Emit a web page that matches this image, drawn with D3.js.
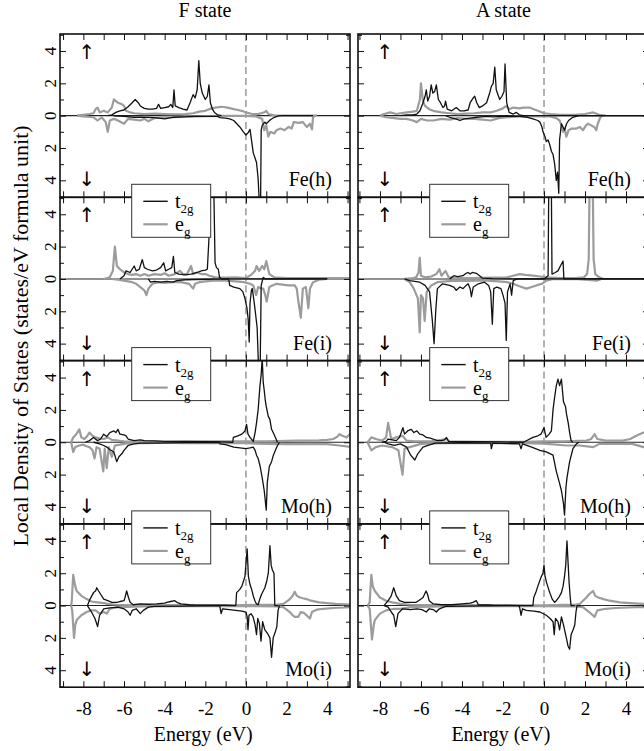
<!DOCTYPE html>
<html>
<head>
<meta charset="utf-8">
<script src="https://cdn.jsdelivr.net/npm/d3@7"></script>
<style>
  html, body { margin: 0; padding: 0; background: #fff; }
  svg { display: block; }
  svg text { font-family: "Liberation Serif", "Times New Roman", serif !important; fill: #000; }
  svg text.arrow { font-family: "DejaVu Sans", sans-serif !important; }
</style>
</head>
<body>
<svg id="chart" width="644" height="751"></svg>
<script>
// ---------------- DATA ----------------
const columnTitles = ["F state", "A state"];
const panelLabels = ["Fe(h)", "Fe(i)", "Mo(h)", "Mo(i)"];
const xTickLabels = [-8, -6, -4, -2, 0, 2, 4];
const yTickLabels = [-4, -2, 0, 2, 4];
const seriesNames = ["t2g", "eg"];

// F state, Fe(h)
const fFeH_t2gUp = [[-6.8,0],[-6.6,0.05],[-6.4,0.2],[-6.2,0.3],[-6.0,0.35],[-5.8,0.55],[-5.6,0.8],[-5.45,1.0],[-5.3,0.8],[-5.2,0.6],[-5.0,0.45],[-4.8,0.4],[-4.6,0.4],[-4.4,0.45],[-4.3,0.7],[-4.2,0.45],[-4.0,0.5],[-3.8,0.55],[-3.7,0.7],[-3.6,0.5],[-3.54,1.6],[-3.48,0.6],[-3.3,0.5],[-3.1,0.4],[-2.9,0.35],[-2.75,0.8],[-2.6,1.3],[-2.5,1.1],[-2.4,1.6],[-2.32,3.4],[-2.25,2.0],[-2.15,1.4],[-2.0,1.0],[-1.9,1.2],[-1.82,1.9],[-1.75,0.8],[-1.65,0.4],[-1.55,0.2],[-1.4,0.05],[-1.2,0]];
const fFeH_t2gDn = [[-6.5,-0.02],[-6,-0.05],[-5.5,-0.1],[-5,-0.1],[-4.5,-0.12],[-4,-0.2],[-3.6,-0.1],[-3,-0.08],[-2.5,-0.05],[-2,-0.05],[-1.4,-0.05],[-1.28,-0.12],[-1.0,-0.15],[-0.8,-0.2],[-0.6,-0.3],[-0.45,-0.5],[-0.3,-0.7],[-0.13,-1.0],[0.0,-1.2],[0.11,-1.05],[0.2,-0.85],[0.36,-2.3],[0.52,-2.9],[0.6,-3.9],[0.66,-5.5],[0.72,-5.5],[0.75,-0.9],[0.8,-0.6],[0.93,-0.4],[1.0,-0.5],[1.2,-0.25],[1.4,-0.1],[1.6,-0.02],[1.8,0],[3.3,0]];
const fFeH_egUp = [[-8.3,0],[-8,0.05],[-7.7,0.1],[-7.5,0.15],[-7.4,0.4],[-7.3,0.5],[-7.2,0.2],[-7.0,0.3],[-6.8,0.2],[-6.6,0.5],[-6.5,1.0],[-6.4,0.9],[-6.3,0.8],[-6.1,0.7],[-6.0,0.6],[-5.9,0.3],[-5.7,0.2],[-5.5,0.15],[-5.0,0.1],[-4.5,0.12],[-4.0,0.1],[-3.5,0.08],[-3.0,0.1],[-2.6,0.15],[-2.3,0.25],[-2.0,0.3],[-1.7,0.45],[-1.5,0.5],[-1.2,0.55],[-0.9,0.5],[-0.6,0.4],[-0.4,0.35],[-0.2,0.3],[0,0.2],[0.3,0.1],[0.6,0.1],[0.9,0.2],[1.0,0.3],[1.1,0.1],[1.4,0.02],[2,0],[3.5,0]];
const fFeH_egDn = [[-8.3,0],[-8,-0.05],[-7.5,-0.1],[-7.3,-0.3],[-7.1,-0.1],[-6.9,-0.4],[-6.8,-1.0],[-6.7,-0.3],[-6.5,-0.2],[-6.3,-0.3],[-6.0,-0.5],[-5.8,-0.2],[-5.5,-0.25],[-5.2,-0.3],[-5.0,-0.2],[-4.8,-0.35],[-4.5,-0.15],[-4.0,-0.1],[-3.5,-0.1],[-3.0,-0.05],[-2.5,-0.05],[-2,-0.03],[-1,-0.02],[0,-0.02],[0.5,-0.05],[0.8,-0.2],[0.9,-0.9],[1.0,-0.6],[1.1,-1.3],[1.2,-1.0],[1.4,-1.1],[1.5,-0.9],[1.7,-0.8],[1.9,-0.9],[2.1,-0.7],[2.25,-0.8],[2.35,-0.4],[2.6,-0.45],[2.8,-0.4],[3.0,-0.7],[3.15,-0.5],[3.25,-0.85],[3.3,-0.1],[3.4,0]];

// F state, Fe(i)
const fFeI_t2gUp = [[-6.2,0],[-6.0,0.2],[-5.9,0.5],[-5.7,0.4],[-5.5,0.8],[-5.4,0.5],[-5.25,0.6],[-5.1,1.2],[-5.0,0.7],[-4.85,0.6],[-4.6,0.5],[-4.4,0.55],[-4.2,0.7],[-4.05,1.0],[-3.95,0.5],[-3.8,0.6],[-3.65,0.7],[-3.57,1.4],[-3.5,0.4],[-3.3,0.3],[-3.0,0.25],[-2.7,0.3],[-2.4,0.4],[-2.2,0.5],[-2.0,0.55],[-1.9,0.6],[-1.82,2.5],[-1.76,5.5],[-1.58,5.5],[-1.52,1.0],[-1.45,0.7],[-1.36,0.6],[-1.3,0.1],[-1.2,0],[4.0,0]];
const fFeI_t2gDn = [[-4.8,0],[-4.7,-0.2],[-4.5,-0.15],[-4.2,-0.2],[-3.9,-0.15],[-3.6,-0.2],[-3.4,-0.1],[-3.0,-0.05],[-2,-0.02],[-0.85,0],[-0.8,-0.4],[-0.6,-0.5],[-0.3,-0.6],[-0.15,-0.8],[-0.05,-1.2],[0.05,-1.8],[0.11,-2.5],[0.16,-3.9],[0.2,-1.5],[0.27,-0.7],[0.31,-0.6],[0.38,-1.2],[0.44,-1.8],[0.55,-3.0],[0.62,-5.5],[0.7,-5.5],[0.75,-0.4],[0.85,0.1],[0.95,0],[4,0]];
const fFeI_egUp = [[-7.0,0],[-6.7,0.1],[-6.55,0.5],[-6.45,2.0],[-6.35,0.8],[-6.2,0.6],[-6.0,0.4],[-5.8,0.3],[-5.6,0.25],[-5.4,0.3],[-5.2,0.2],[-5.0,0.3],[-4.8,0.2],[-4.5,0.3],[-4.2,0.25],[-4.0,0.35],[-3.8,0.2],[-3.5,0.3],[-3.25,0.5],[-3.1,0.3],[-2.9,0.3],[-2.7,0.8],[-2.6,0.3],[-2.4,0.4],[-2.2,0.3],[-2.0,0.3],[-1.8,0.2],[-1.5,0.1],[-1,0.08],[-0.5,0.1],[0,0.05],[0.3,0.3],[0.45,0.5],[0.52,0.8],[0.65,0.5],[0.8,0.8],[0.9,0.6],[1.0,1.1],[1.15,0.3],[1.4,0.1],[2,0.05],[3,0.05],[4,0.05],[5.2,0.05]];
const fFeI_egDn = [[-6.6,0],[-6.3,-0.05],[-6.0,-0.1],[-5.6,-0.2],[-5.4,-0.3],[-5.2,-0.5],[-5.0,-0.7],[-4.9,-1.0],[-4.8,-0.6],[-4.6,-0.3],[-4.3,-0.2],[-4.0,-0.25],[-3.6,-0.2],[-3.2,-0.2],[-2.8,-0.3],[-2.6,-0.6],[-2.5,-0.3],[-2.3,-0.2],[-2.0,-0.15],[-1.6,-0.1],[-1.0,-0.1],[-0.5,-0.15],[-0.1,-0.2],[0.2,-0.3],[0.36,-0.4],[0.5,-1.0],[0.6,-0.5],[0.75,-0.6],[0.85,-0.6],[0.95,-1.0],[1.02,-1.4],[1.15,-0.5],[1.3,-0.4],[1.5,-0.3],[1.8,-0.35],[2.1,-0.4],[2.4,-0.4],[2.5,-0.6],[2.57,-1.3],[2.7,-2.4],[2.8,-0.6],[2.95,-0.5],[3.07,-1.8],[3.15,-0.6],[3.3,-0.2],[3.6,-0.05],[4,0]];

// F state, Mo(h)
const fMoH_t2gUp = [[-7.9,0],[-7.7,0.1],[-7.5,0.3],[-7.3,0.1],[-7.15,0.2],[-7.0,0.5],[-6.85,0.35],[-6.7,0.6],[-6.5,0.7],[-6.4,0.6],[-6.3,0.8],[-6.2,0.5],[-6.0,0.45],[-5.9,0.4],[-5.8,0.2],[-5.5,0.1],[-5.2,0.15],[-5.0,0.1],[-4.5,0.08],[-4,0.05],[-3,0.05],[-2,0.03],[-1.2,0.02],[-0.65,0],[-0.62,0.3],[-0.4,0.4],[-0.2,0.5],[-0.05,0.7],[0.03,1.1],[0.1,0.5],[0.2,0.3],[0.36,0.05],[0.45,0.6],[0.52,1.2],[0.6,2.0],[0.69,3.5],[0.75,4.2],[0.8,5.2],[0.85,3.7],[0.9,3.2],[0.95,2.6],[1.0,2.2],[1.1,1.6],[1.18,1.4],[1.26,0.8],[1.34,0.6],[1.45,0.3],[1.55,0]];
const fMoH_t2gDn = [[-7.5,0],[-7.2,-0.1],[-7.0,-0.2],[-6.85,-0.3],[-6.7,-0.45],[-6.5,-0.6],[-6.36,-1.2],[-6.25,-0.9],[-6.1,-0.7],[-6.0,-0.5],[-5.8,-0.2],[-5.5,-0.1],[-5.2,-0.05],[-4.5,-0.05],[-3,-0.02],[-1.3,0],[-1.28,-0.1],[-1.0,-0.15],[-0.6,-0.3],[-0.3,-0.35],[0,-0.4],[0.2,-0.35],[0.36,-0.3],[0.45,-0.5],[0.52,-0.8],[0.6,-1.0],[0.7,-1.5],[0.8,-2.2],[0.9,-3.0],[1.0,-4.2],[1.05,-2.5],[1.15,-1.5],[1.26,-1.2],[1.35,-0.8],[1.45,-0.5],[1.55,-0.2],[1.65,0]];
const fMoH_egUp = [[-8.6,0],[-8.5,0.3],[-8.35,0.5],[-8.2,0.8],[-8.1,0.3],[-7.95,0.2],[-7.8,0.4],[-7.7,0.6],[-7.55,0.4],[-7.4,0.3],[-7.2,0.25],[-7.0,0.2],[-6.8,0.3],[-6.6,0.15],[-6.3,0.1],[-6.0,0.05],[-5,0.04],[-4,0.03],[-3,0.04],[-2,0.05],[-1,0.05],[0,0.05],[1,0.05],[2,0.08],[2.5,0.1],[3,0.1],[3.6,0.12],[4.0,0.15],[4.3,0.2],[4.5,0.35],[4.6,0.5],[4.75,0.4],[4.95,0.3],[5.2,0.6]];
const fMoH_egDn = [[-8.6,0],[-8.5,-0.6],[-8.4,-0.3],[-8.2,-0.2],[-8.0,-0.15],[-7.85,-0.25],[-7.7,-0.3],[-7.55,-0.5],[-7.45,-1.0],[-7.35,-0.3],[-7.2,-0.4],[-7.1,-1.2],[-7.02,-1.8],[-6.95,-0.4],[-6.85,-1.6],[-6.75,-0.3],[-6.6,-0.9],[-6.45,-0.2],[-6.2,-0.15],[-5.8,-0.05],[-5,-0.05],[-4,-0.03],[-3,-0.05],[-2,-0.05],[-1,-0.05],[0,-0.05],[0.5,-0.08],[1,-0.1],[2,-0.12],[3,-0.1],[4,-0.12],[4.6,-0.2],[4.95,-0.25],[5.2,-0.3]];

// F state, Mo(i)
const fMoI_t2gUp = [[-7.8,0],[-7.67,0.4],[-7.5,0.8],[-7.4,0.9],[-7.34,1.1],[-7.25,0.9],[-7.15,0.7],[-7.0,0.4],[-6.8,0.3],[-6.6,0.2],[-6.36,0.2],[-6.2,0.25],[-6.0,0.3],[-5.95,0.5],[-5.87,0.9],[-5.78,0.5],[-5.7,0.2],[-5.55,0.05],[-5.2,0.1],[-4.8,0.08],[-4.4,0.1],[-4.0,0.15],[-3.9,0.2],[-3.7,0.25],[-3.5,0.3],[-3.4,0.2],[-3.2,0.1],[-2.8,0.05],[-2.5,0.03],[-1.0,0.02],[-0.5,0],[-0.46,0.8],[-0.3,1.0],[-0.2,1.2],[-0.05,1.8],[0.06,3.5],[0.12,1.8],[0.2,1.3],[0.28,1.0],[0.36,0.6],[0.44,0.3],[0.52,0.1],[0.6,0.05],[0.68,0.4],[0.77,0.7],[0.85,0.9],[0.93,1.1],[1.02,1.5],[1.1,2.0],[1.18,3.7],[1.24,2.5],[1.3,2.2],[1.38,2.0],[1.42,0],[1.6,0]];
const fMoI_t2gDn = [[-7.8,0],[-7.7,-0.2],[-7.6,-0.4],[-7.43,-0.8],[-7.3,-1.3],[-7.2,-0.6],[-7.0,-0.2],[-6.7,-0.15],[-6.3,-0.1],[-6.0,-0.2],[-5.8,-0.4],[-5.7,-0.6],[-5.6,-0.3],[-5.4,-0.2],[-5.2,-0.5],[-5.05,-0.3],[-4.8,-0.1],[-4.5,-0.05],[-3,-0.03],[-1.3,0],[-1.28,-0.1],[-1.22,-0.5],[-1.15,-0.2],[-0.8,-0.25],[-0.5,-0.3],[-0.2,-0.35],[0,-0.4],[0.06,-0.7],[0.1,-1.5],[0.15,-0.6],[0.25,-0.5],[0.35,-0.7],[0.45,-1.2],[0.52,-1.8],[0.58,-0.8],[0.66,-1.1],[0.74,-2.2],[0.82,-1.0],[0.93,-1.5],[1.05,-1.7],[1.18,-2.0],[1.26,-3.2],[1.34,-2.0],[1.45,-1.6],[1.52,-1.3],[1.58,-0.3],[1.65,0]];
const fMoI_egUp = [[-8.6,0],[-8.57,0.3],[-8.5,1.9],[-8.4,1.2],[-8.33,0.9],[-8.1,0.6],[-7.84,0.4],[-7.6,0.25],[-7.3,0.2],[-7.0,0.15],[-6.8,0.1],[-6.36,0.05],[-5,0.03],[-3,0.03],[-1,0.02],[0,0.03],[1,0.05],[1.5,0.05],[1.84,0.1],[2.0,0.25],[2.16,0.4],[2.3,0.6],[2.4,0.85],[2.5,0.6],[2.66,0.5],[2.8,0.45],[2.98,0.4],[3.2,0.3],[3.6,0.2],[4.0,0.15],[4.4,0.1],[5.2,0.05]];
const fMoI_egDn = [[-8.6,0],[-8.55,-0.3],[-8.46,-2.0],[-8.4,-1.2],[-8.33,-0.9],[-8.1,-0.6],[-7.84,-0.4],[-7.6,-0.3],[-7.4,-0.3],[-7.2,-0.5],[-7.0,-0.4],[-6.85,-0.5],[-6.7,-0.2],[-6.3,-0.1],[-5,-0.05],[-3,-0.03],[0,-0.03],[1.5,-0.05],[1.84,-0.1],[2.0,-0.25],[2.16,-0.4],[2.3,-0.6],[2.4,-0.7],[2.57,-0.7],[2.7,-0.4],[2.85,-0.45],[2.98,-0.6],[3.15,-0.8],[3.25,-0.4],[3.5,-0.25],[3.8,-0.2],[4.3,-0.15],[5.2,-0.1]];

// A state, Fe(h)
const aFeH_t2gUp = [[-7.0,0],[-6.7,0.05],[-6.4,0.05],[-6.2,0.1],[-6.05,0.3],[-5.9,0.8],[-5.8,1.2],[-5.74,1.6],[-5.67,0.9],[-5.58,1.2],[-5.5,1.9],[-5.42,1.4],[-5.33,1.5],[-5.25,1.9],[-5.15,1.0],[-5.05,0.8],[-4.93,0.5],[-4.85,0.6],[-4.8,0.9],[-4.72,0.4],[-4.5,0.3],[-4.28,0.5],[-4.1,0.3],[-3.9,0.3],[-3.7,0.35],[-3.6,0.8],[-3.45,1.1],[-3.38,1.2],[-3.28,0.8],[-3.15,0.5],[-3.0,0.6],[-2.8,0.8],[-2.65,1.4],[-2.57,1.8],[-2.48,2.0],[-2.4,3.0],[-2.33,1.6],[-2.16,1.0],[-2.05,1.2],[-1.95,1.5],[-1.9,3.2],[-1.82,0.8],[-1.7,0.2],[-1.5,0.1],[-1.35,0.2],[-1.2,0.05],[-1.0,0],[5,0]];
const aFeH_t2gDn = [[-4.8,0],[-4.6,-0.1],[-4.3,-0.2],[-4.1,-0.3],[-3.9,-0.2],[-3.6,-0.15],[-3.3,-0.1],[-2.8,-0.05],[-2.5,-0.08],[-2.0,-0.05],[-1.5,-0.03],[-1.19,-0.05],[-0.8,-0.1],[-0.54,-0.2],[-0.3,-0.3],[-0.2,-0.4],[-0.1,-0.7],[-0.05,-1.0],[0.05,-1.3],[0.11,-1.6],[0.2,-1.5],[0.28,-1.8],[0.36,-2.2],[0.44,-2.4],[0.52,-3.0],[0.6,-4.0],[0.66,-3.5],[0.72,-4.8],[0.76,-1.5],[0.85,-0.5],[0.93,-0.7],[1.0,-0.9],[1.1,-0.5],[1.2,-0.3],[1.4,-0.1],[1.7,0],[5,0]];
const aFeH_egUp = [[-8.0,0],[-7.8,0.1],[-7.5,0.2],[-7.2,0.1],[-7.0,0.15],[-6.7,0.2],[-6.4,0.25],[-6.2,0.3],[-6.05,1.0],[-6.0,2.0],[-5.9,0.9],[-5.8,0.6],[-5.6,0.4],[-5.4,0.3],[-5.0,0.2],[-4.6,0.15],[-4.2,0.1],[-3.8,0.12],[-3.4,0.15],[-3.0,0.2],[-2.6,0.2],[-2.3,0.3],[-2.0,0.45],[-1.84,0.6],[-1.7,0.4],[-1.5,0.5],[-1.2,0.45],[-1.0,0.5],[-0.7,0.5],[-0.5,0.4],[-0.3,0.3],[0,0.15],[0.3,0.1],[0.8,0.05],[1.5,0.05],[2.0,0.1],[2.4,0.2],[2.7,0.05],[3,0]];
const aFeH_egDn = [[-8.0,0],[-7.7,-0.1],[-7.3,-0.15],[-7.0,-0.2],[-6.7,-0.2],[-6.4,-0.3],[-6.2,-0.4],[-6.0,-0.2],[-5.7,-0.3],[-5.4,-0.3],[-5.0,-0.2],[-4.6,-0.25],[-4.2,-0.15],[-3.8,-0.2],[-3.4,-0.2],[-3.0,-0.25],[-2.6,-0.3],[-2.2,-0.15],[-1.8,-0.1],[-1.2,-0.05],[-0.5,-0.03],[0.3,-0.05],[0.6,-0.15],[0.76,-0.3],[0.85,-0.6],[0.93,-1.0],[1.0,-0.8],[1.09,-1.3],[1.2,-0.9],[1.35,-0.8],[1.58,-0.8],[1.75,-0.7],[1.9,-0.9],[2.05,-0.6],[2.15,-0.5],[2.3,-0.6],[2.45,-0.7],[2.55,-0.9],[2.62,-0.5],[2.75,-0.1],[2.85,0]];

// A state, Fe(i)
const aFeI_t2gUp = [[-4.6,0],[-4.4,0.2],[-4.2,0.15],[-3.95,0.2],[-3.8,0.35],[-3.7,0.4],[-3.6,0.3],[-3.5,0.4],[-3.3,0.35],[-3.14,0.2],[-3.0,0.05],[-2.5,0.02],[-1,0],[0.0,0],[0.11,0.1],[0.2,0.2],[0.23,5.5],[0.36,5.5],[0.39,0.3],[0.55,0.4],[0.68,0.5],[0.8,0.8],[0.93,1.1],[0.97,0],[5,0]];
const aFeI_t2gDn = [[-6.8,0],[-6.55,-0.1],[-6.3,-0.15],[-6.06,-0.2],[-5.8,-0.4],[-5.58,-0.8],[-5.45,-2.5],[-5.36,-4.0],[-5.28,-2.0],[-5.2,-0.6],[-4.95,-0.3],[-4.6,-0.4],[-4.4,-0.5],[-4.28,-0.7],[-4.1,-0.5],[-3.95,-0.6],[-3.8,-0.4],[-3.7,-0.3],[-3.6,-0.6],[-3.54,-1.1],[-3.45,-0.5],[-3.2,-0.3],[-2.9,-0.2],[-2.7,-0.4],[-2.6,-0.8],[-2.52,-2.8],[-2.45,-0.6],[-2.3,-0.5],[-2.1,-0.6],[-2.0,-1.0],[-1.9,-1.5],[-1.84,-3.8],[-1.78,-0.8],[-1.65,-0.3],[-1.58,-1.0],[-1.5,-0.1],[-1.3,0],[5,0]];
const aFeI_egUp = [[-6.8,0],[-6.4,0.05],[-6.23,0.1],[-6.12,0.4],[-6.06,1.3],[-6.0,0.2],[-5.8,0.1],[-5.5,0.15],[-5.25,0.3],[-5.1,0.6],[-5.0,0.2],[-4.8,0.5],[-4.65,0.1],[-4.3,0.05],[-3.5,0.05],[-2.5,0.08],[-1.8,0.1],[-1.5,0.2],[-1.19,0.3],[-0.9,0.25],[-0.54,0.2],[-0.2,0.15],[0.11,0.1],[0.8,0.05],[1.5,0.05],[1.95,0.1],[2.1,0.3],[2.18,1.2],[2.22,5.5],[2.38,5.5],[2.42,1.2],[2.5,0.3],[2.7,0.1],[2.9,0]];
const aFeI_egDn = [[-6.8,0],[-6.55,-0.2],[-6.35,-0.6],[-6.15,-1.2],[-6.06,-3.3],[-6.0,-1.0],[-5.9,-1.2],[-5.82,-2.6],[-5.72,-0.8],[-5.5,-0.4],[-5.2,-0.2],[-4.8,-0.15],[-4.3,-0.1],[-3.8,-0.12],[-3.3,-0.1],[-2.8,-0.1],[-2.2,-0.15],[-1.8,-0.2],[-1.5,-0.3],[-1.2,-0.45],[-0.86,-0.6],[-0.6,-0.5],[-0.37,-0.4],[-0.1,-0.3],[0.11,-0.1],[0.4,-0.02],[1.5,0],[2.6,-0.1],[2.8,0]];

// A state, Mo(h)
const aMoH_t2gUp = [[-7.9,0],[-7.7,0.05],[-7.6,0.2],[-7.4,0.15],[-7.2,0.1],[-7.05,0.3],[-6.96,0.6],[-6.88,0.9],[-6.8,0.5],[-6.65,0.7],[-6.47,0.8],[-6.35,0.6],[-6.2,0.7],[-6.06,0.5],[-5.9,0.45],[-5.74,0.3],[-5.55,0.25],[-5.41,0.2],[-5.2,0.1],[-5.0,0.1],[-4.85,0.15],[-4.76,0.3],[-4.65,0.05],[-4,0.03],[-3,0.03],[-2,0.02],[-1,0],[-0.54,0.3],[-0.3,0.4],[-0.15,0.5],[0,0.9],[0.1,0.3],[0.25,0.5],[0.36,0.7],[0.44,2.0],[0.52,2.8],[0.6,3.5],[0.68,3.9],[0.76,3.5],[0.85,3.9],[0.95,2.5],[1.05,2.2],[1.09,1.8],[1.18,1.2],[1.25,0.6],[1.32,0.1],[1.4,0]];
const aMoH_t2gDn = [[-7.8,0],[-7.6,-0.1],[-7.3,-0.2],[-7.0,-0.1],[-6.7,-0.3],[-6.5,-0.8],[-6.3,-1.1],[-6.15,-0.7],[-5.9,-0.3],[-5.66,-0.2],[-5.3,-0.05],[-4,-0.03],[-2.6,-0.05],[-2.57,-0.4],[-2.5,-0.05],[-1.2,-0.1],[-1.12,-0.4],[-1.05,-0.1],[-0.6,-0.3],[-0.2,-0.5],[0.11,-0.6],[0.44,-0.8],[0.6,-1.8],[0.75,-2.5],[0.85,-3.0],[0.95,-3.8],[1.0,-4.5],[1.07,-2.8],[1.12,-2.2],[1.25,-1.2],[1.41,-0.4],[1.58,-0.1],[1.7,0]];
const aMoH_egUp = [[-8.6,0],[-8.42,0.3],[-8.2,0.2],[-7.9,0.1],[-7.7,0.3],[-7.6,1.2],[-7.45,0.2],[-7.2,0.3],[-6.9,0.4],[-6.7,0.1],[-6.3,0.05],[-5.5,0.05],[-4.76,0.2],[-4.6,0.05],[-3,0.03],[-1,0.03],[0,0.05],[1,0.05],[2.07,0.1],[2.3,0.2],[2.47,0.5],[2.6,0.2],[3.0,0.1],[3.85,0.1],[4.2,0.2],[4.5,0.4],[4.85,0.6],[5.2,0.5]];
const aMoH_egDn = [[-8.6,0],[-8.42,-0.5],[-8.2,-0.3],[-7.9,-0.2],[-7.4,-0.3],[-7.1,-0.5],[-6.9,-2.0],[-6.8,-0.4],[-6.55,-0.3],[-6.0,-0.1],[-5,-0.05],[-3,-0.05],[-1,-0.05],[0,-0.08],[1.09,-0.2],[1.75,-0.2],[2.4,-0.3],[2.7,-0.1],[4.3,-0.1],[4.85,-0.3],[5.2,-0.3]];

// A state, Mo(i)
const aMoI_t2gUp = [[-7.8,0],[-7.6,0.3],[-7.45,0.6],[-7.33,1.1],[-7.2,0.6],[-7.05,0.3],[-6.8,0.2],[-6.5,0.2],[-6.23,0.2],[-6.0,0.4],[-5.9,0.5],[-5.75,0.9],[-5.68,0.7],[-5.6,0.3],[-5.4,0.1],[-5.0,0.05],[-4.5,0.05],[-4.0,0.1],[-3.6,0.15],[-3.46,0.2],[-3.3,0.3],[-3.2,0.05],[-2.5,0.02],[-1,0],[-0.54,0],[-0.5,0.5],[-0.4,0.8],[-0.3,1.2],[-0.13,1.8],[-0.05,2.0],[0,2.5],[0.05,1.8],[0.13,1.4],[0.28,0.8],[0.4,0.4],[0.52,0.2],[0.6,0.3],[0.72,0.5],[0.85,0.8],[0.93,1.2],[1.0,1.8],[1.06,2.5],[1.12,4.0],[1.18,2.5],[1.22,1.5],[1.28,0.5],[1.32,0],[1.5,0]];
const aMoI_t2gDn = [[-7.8,0],[-7.6,-0.1],[-7.45,-0.4],[-7.33,-0.6],[-7.23,-1.3],[-7.12,-0.5],[-6.9,-0.2],[-6.5,-0.25],[-6.2,-0.2],[-5.95,-0.25],[-5.74,-0.4],[-5.6,-0.2],[-5.4,-0.25],[-5.25,-0.4],[-5.1,-0.2],[-4.8,-0.05],[-3,-0.02],[-1.25,0],[-1.19,-0.1],[-1.12,-0.6],[-1.05,-0.2],[-0.86,-0.3],[-0.5,-0.35],[-0.2,-0.4],[0.11,-0.6],[0.3,-0.8],[0.44,-1.0],[0.5,-1.8],[0.56,-0.8],[0.68,-1.0],[0.76,-1.5],[0.85,-0.7],[0.95,-1.2],[1.09,-2.0],[1.17,-2.5],[1.25,-2.7],[1.32,-1.8],[1.42,-1.5],[1.5,-1.2],[1.56,-0.4],[1.61,0],[1.8,0]];
const aMoI_egUp = [[-8.6,0],[-8.5,0.2],[-8.42,1.9],[-8.35,1.2],[-8.25,0.9],[-8.0,0.5],[-7.7,0.3],[-7.4,0.2],[-7.0,0.1],[-6.5,0.05],[-5,0.03],[-3,0.03],[-1,0.02],[0,0.02],[1,0.05],[1.5,0.05],[1.74,0.1],[1.9,0.3],[2.07,0.5],[2.2,0.7],[2.39,0.9],[2.5,0.6],[2.65,0.5],[2.9,0.4],[3.2,0.3],[3.7,0.2],[4.2,0.15],[4.8,0.1],[5.2,0.1]];
const aMoI_egDn = [[-8.6,0],[-8.5,-0.2],[-8.39,-2.1],[-8.3,-1.2],[-8.25,-0.9],[-8.0,-0.5],[-7.7,-0.3],[-7.3,-0.2],[-7.0,-0.2],[-6.5,-0.1],[-5,-0.05],[-3,-0.03],[0,-0.03],[1.5,-0.05],[1.9,-0.1],[2.2,-0.4],[2.47,-0.7],[2.6,-0.3],[3.0,-0.2],[3.5,-0.15],[4.5,-0.1],[5.2,-0.1]];

const panelData = [
  [ {t2g:[fFeH_t2gUp,fFeH_t2gDn], eg:[fFeH_egUp,fFeH_egDn]},
    {t2g:[fFeI_t2gUp,fFeI_t2gDn], eg:[fFeI_egUp,fFeI_egDn]},
    {t2g:[fMoH_t2gUp,fMoH_t2gDn], eg:[fMoH_egUp,fMoH_egDn]},
    {t2g:[fMoI_t2gUp,fMoI_t2gDn], eg:[fMoI_egUp,fMoI_egDn]} ],
  [ {t2g:[aFeH_t2gUp,aFeH_t2gDn], eg:[aFeH_egUp,aFeH_egDn]},
    {t2g:[aFeI_t2gUp,aFeI_t2gDn], eg:[aFeI_egUp,aFeI_egDn]},
    {t2g:[aMoH_t2gUp,aMoH_t2gDn], eg:[aMoH_egUp,aMoH_egDn]},
    {t2g:[aMoI_t2gUp,aMoI_t2gDn], eg:[aMoI_egUp,aMoI_egDn]} ]
];

// ---------------- LAYOUT ----------------
const SERIF = "Liberation Serif";
const svg = d3.select("#chart");
const cols = [
  {x0: 60, x1: 350, dom: [-9.15, 5.12]},
  {x0: 358, x1: 649, dom: [-9.07, 5.12]}
];
const rowTop = 34, rowH = 163.3;
const yDom = [-5.05, 5.05];
const black = "#111", gray = "#9c9c9c";

const defs = svg.append("defs");
const legendLayer = [];

cols.forEach((c, ci) => {
  const x = d3.scaleLinear().domain(c.dom).range([c.x0, c.x1]);
  svg.append("text").attr("x", (c.x0 + c.x1) / 2).attr("y", 17)
    .attr("text-anchor", "middle").attr("font-family", SERIF).attr("font-size", 20).text(columnTitles[ci]);
  svg.append("text").attr("x", x(-2.1)).attr("y", 741)
    .attr("text-anchor", "middle").attr("font-family", SERIF).attr("font-size", 20).text("Energy (eV)");

  panelLabels.forEach((lab, ri) => {
    const top = rowTop + ri * rowH, bot = top + rowH;
    const y = d3.scaleLinear().domain(yDom).range([bot, top]);
    const g = svg.append("g");
    const clipId = `clip-${ci}-${ri}`;
    defs.append("clipPath").attr("id", clipId).append("rect")
      .attr("x", c.x0).attr("y", top).attr("width", c.x1 - c.x0).attr("height", rowH);

    const plot = g.append("g").attr("clip-path", `url(#${clipId})`);
    plot.append("line").attr("x1", c.x0).attr("x2", c.x1)
      .attr("y1", y(0)).attr("y2", y(0)).attr("stroke", "#222").attr("stroke-width", 1.1);
    plot.append("line").attr("x1", x(0)).attr("x2", x(0)).attr("y1", top).attr("y2", bot)
      .attr("stroke", "#555").attr("stroke-width", 0.9).attr("stroke-dasharray", "7,4");

    const line = d3.line().x(d => x(d[0])).y(d => y(d[1]));
    const pd = panelData[ci][ri];
    pd.eg.forEach(s => plot.append("path").attr("d", line(s)).attr("fill", "none")
      .attr("stroke", gray).attr("stroke-width", 2.2).attr("stroke-linejoin", "round"));
    pd.t2g.forEach(s => plot.append("path").attr("d", line(s)).attr("fill", "none")
      .attr("stroke", black).attr("stroke-width", 1.3).attr("stroke-linejoin", "round"));

    const xTicks = d3.range(-9, 6, 1).filter(v => v >= c.dom[0] && v <= c.dom[1]);
    const axStyle = sel => { sel.select(".domain").remove(); sel.selectAll("line").attr("stroke", "#111").attr("stroke-width", 1); };
    g.append("g").attr("transform", `translate(0,${top})`)
      .call(d3.axisTop(x).tickValues(xTicks).tickSize(-6).tickFormat("")).call(axStyle);
    g.append("g").attr("transform", `translate(0,${bot})`)
      .call(d3.axisBottom(x).tickValues(xTicks).tickSize(-6).tickFormat("")).call(axStyle);
    const yMajor = yTickLabels, yMinor = [-5, -3, -1, 1, 3, 5].filter(v => v > yDom[0] && v < yDom[1]);
    g.append("g").attr("transform", `translate(${c.x0},0)`)
      .call(d3.axisLeft(y).tickValues(yMajor).tickSize(-6).tickFormat("")).call(axStyle);
    g.append("g").attr("transform", `translate(${c.x0},0)`)
      .call(d3.axisLeft(y).tickValues(yMinor).tickSize(-4).tickFormat("")).call(axStyle);
    g.append("g").attr("transform", `translate(${c.x1},0)`)
      .call(d3.axisRight(y).tickValues(yMajor).tickSize(-6).tickFormat("")).call(axStyle);
    g.append("g").attr("transform", `translate(${c.x1},0)`)
      .call(d3.axisRight(y).tickValues(yMinor).tickSize(-4).tickFormat("")).call(axStyle);

    g.append("rect").attr("x", c.x0).attr("y", top).attr("width", c.x1 - c.x0).attr("height", rowH)
      .attr("fill", "none").attr("stroke", "#111").attr("stroke-width", 1.6);

    if (ci === 0) {
      yTickLabels.forEach(v => {
        g.append("text").attr("transform", `translate(56,${y(v)}) rotate(-90)`)
          .attr("text-anchor", "middle").attr("font-family", SERIF).attr("font-size", 17).text(Math.abs(v));
      });
    }
    g.append("text").attr("class", "arrow").attr("x", c.x0 + 27).attr("y", top + 25).attr("text-anchor", "middle")
      .attr("font-size", 20).attr("fill", "#000").text("\u2191\uFE0E");
    g.append("text").attr("class", "arrow").attr("x", c.x0 + 27).attr("y", bot - 11).attr("text-anchor", "middle")
      .attr("font-size", 20).attr("fill", "#000").text("\u2193\uFE0E");
    g.append("text").attr("x", c.x1 - 18).attr("y", bot - 11).attr("text-anchor", "end")
      .attr("font-family", SERIF).attr("font-size", 20).text(lab);

    if (ri === panelLabels.length - 1) {
      const ax = g.append("g").attr("transform", `translate(0,${bot})`)
        .call(d3.axisBottom(x).tickValues(xTickLabels).tickSize(0).tickPadding(14).tickFormat(d => String(d)));
      ax.select(".domain").remove();
      ax.attr("font-family", SERIF).attr("font-size", 19);
      ax.selectAll("text").attr("font-family", SERIF).attr("font-size", 19).attr("fill", "#000");
    }
    if (ri > 0) legendLayer.push({x0: c.x0, top});
  });
});

legendLayer.forEach(({x0, top}) => {
  const lg = svg.append("g");
  lg.append("rect").attr("x", x0 + 71.7).attr("y", top - 13).attr("width", 79).attr("height", 53)
    .attr("fill", "#fff").attr("stroke", "#333").attr("stroke-width", 1);
  seriesNames.forEach((name, i) => {
    const ly = top + (i === 0 ? 4 : 27);
    lg.append("line").attr("x1", x0 + 83.3).attr("x2", x0 + 107.7).attr("y1", ly).attr("y2", ly)
      .attr("stroke", i === 0 ? black : gray).attr("stroke-width", i === 0 ? 1.4 : 2.2);
    const t = lg.append("text").attr("x", x0 + 115).attr("y", ly + 7).attr("font-family", SERIF).attr("font-size", 20);
    t.append("tspan").text(name[0]);
    t.append("tspan").attr("font-size", 13).attr("dy", 5).text(name.slice(1));
  });
});

svg.append("text").attr("transform", "translate(28,336) rotate(-90)")
  .attr("text-anchor", "middle").attr("font-family", SERIF).attr("font-size", 22)
  .text("Local Density of States (states/eV formula unit)");
</script>
</body>
</html>
